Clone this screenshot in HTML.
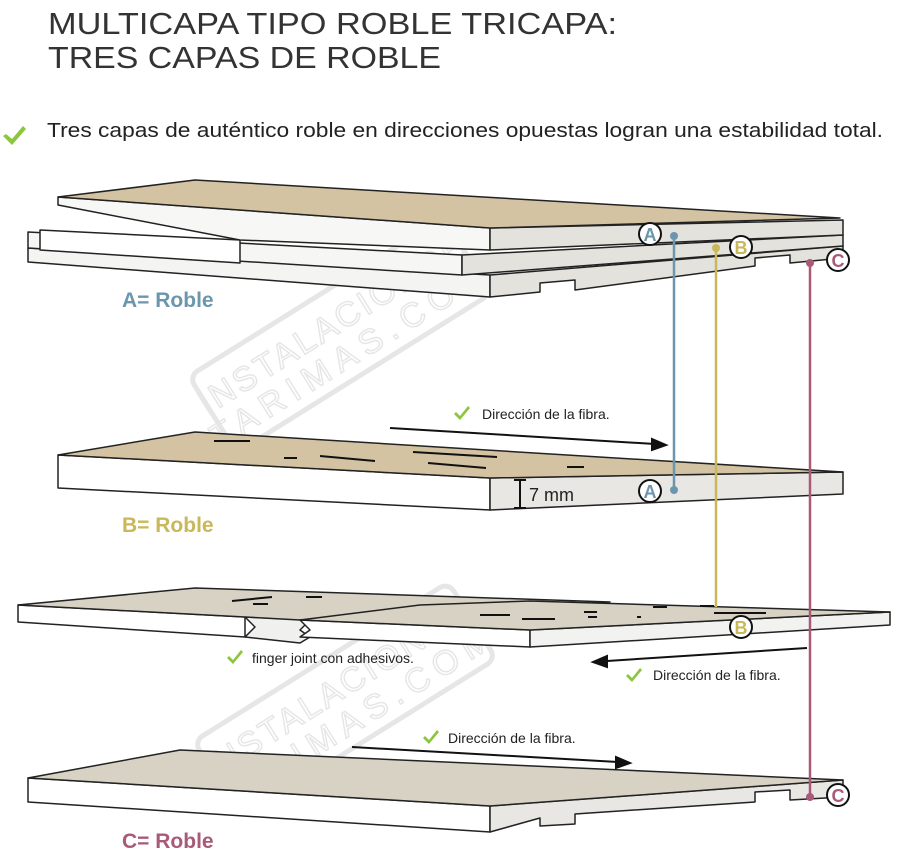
<!DOCTYPE html>
<html><head><meta charset="utf-8"><style>
html,body{margin:0;padding:0;background:#fff;width:900px;height:857px;overflow:hidden}
svg{display:block}
text{font-family:"Liberation Sans",sans-serif}
</style></head><body>
<svg width="900" height="857" viewBox="0 0 900 857" xmlns="http://www.w3.org/2000/svg">
<defs>
<g id="chk"><path d="M0,6 L4,10 L12,0 L14,2 L4,14 L-2,8 Z" fill="#8cc63f"/></g>
<g id="chkb"><path d="M0,8 L6,13 L17,0 L20,3 L6,19 L-3,10 Z" fill="#8cc63f"/></g>
</defs>
<!-- watermarks -->
<g opacity="0.2" fill="none" stroke="#888" stroke-width="5">
<g transform="translate(340,335) rotate(-32)">
<rect x="-150" y="-45" width="300" height="90" rx="10"/>
<text x="0" y="-2" text-anchor="middle" font-size="34" fill="none" stroke="#888" stroke-width="1.5" letter-spacing="3">INSTALACIONDE</text>
<text x="0" y="33" text-anchor="middle" font-size="34" fill="none" stroke="#888" stroke-width="1.5" letter-spacing="8">TARIMAS.COM</text>
</g>
<g transform="translate(345,700) rotate(-32)">
<rect x="-150" y="-45" width="300" height="90" rx="10"/>
<text x="0" y="-2" text-anchor="middle" font-size="34" fill="none" stroke="#888" stroke-width="1.5" letter-spacing="3">INSTALACIONDE</text>
<text x="0" y="33" text-anchor="middle" font-size="34" fill="none" stroke="#888" stroke-width="1.5" letter-spacing="8">TARIMAS.COM</text>
</g>
</g>
<!-- title -->
<text x="48" y="34" font-size="31" fill="#333" textLength="569" lengthAdjust="spacingAndGlyphs">MULTICAPA TIPO ROBLE TRICAPA:</text>
<text x="48" y="68" font-size="31" fill="#333" textLength="393" lengthAdjust="spacingAndGlyphs">TRES CAPAS DE ROBLE</text>
<use href="#chkb" x="6" y="126"/>
<text x="47" y="137" font-size="20" fill="#222" textLength="836" lengthAdjust="spacingAndGlyphs">Tres capas de auténtico roble en direcciones opuestas logran una estabilidad total.</text>

<!-- Board 1 (top, 3 layers) -->
<g stroke="#222" stroke-width="1.5" stroke-linejoin="round">
<polygon points="28,262 490,297 490,275 28,248" fill="#f4f4f2"/>
<polygon points="490,297 540,292 540,283 575,280 575,290 755,266 755,258 790,255 790,263 843,258 843,246 490,275" fill="#e4e2dc"/>
<polygon points="28,232 238,243 462,255 462,275 28,248" fill="#f6f6f4"/>
<polygon points="462,255 843,235 843,246 462,275" fill="#e4e2dc"/>
<polygon points="40,230 240,240 240,263 40,250" fill="#fff"/>
<polygon points="58,197 490,228 490,250 240,240 58,205" fill="#f7f7f5"/>
<polygon points="490,228 843,220 843,235 490,250" fill="#e4e2dc"/>
<polygon points="58,197 195,180 840,218 490,228" fill="#d3c3a3"/>
</g>
<text x="122" y="307" font-size="21" font-weight="bold" fill="#6b96ad">A= Roble</text>

<!-- Board 2 -->
<g stroke="#222" stroke-width="1.5" stroke-linejoin="round">
<polygon points="58,455 490,478 490,510 58,488" fill="#fff"/>
<polygon points="490,478 843,472 843,494 490,510" fill="#e8e7e4"/>
<polygon points="58,455 195,432 843,472 490,478" fill="#d3c3a3"/>
</g>
<g stroke="#111" stroke-width="2">
<line x1="214" y1="441" x2="250" y2="441"/><line x1="284" y1="458" x2="297" y2="458"/>
<line x1="320" y1="456" x2="375" y2="461"/><line x1="413" y1="452" x2="497" y2="457"/>
<line x1="428" y1="463" x2="486" y2="468"/><line x1="567" y1="467" x2="584" y2="467"/>
<line x1="520" y1="480" x2="520" y2="508"/><line x1="514" y1="480" x2="526" y2="480"/><line x1="514" y1="508" x2="526" y2="508"/>
</g>
<text x="529" y="501" font-size="18" fill="#222">7 mm</text>
<text x="122" y="532" font-size="21" font-weight="bold" fill="#c8b85a">B= Roble</text>

<!-- Board 3 -->
<g stroke="#222" stroke-width="1.5" stroke-linejoin="round">
<polygon points="18,605 245,617 245,637 18,622" fill="#fff"/>
<polygon points="245,617 310,620 300,630 310,637 300,643 245,637 255,627" fill="#f0f0ee"/>
<polygon points="18,605 195,588 610,602 300,620 245,617" fill="#d8d2c4"/>
<polygon points="300,620 530,630 530,647 300,637 310,630" fill="#fff"/>
<polygon points="530,630 890,612 890,625 530,647" fill="#f2f2f0"/>
<polygon points="300,620 420,605 530,601 890,612 530,630" fill="#d8d2c4"/>
</g>
<g stroke="#111" stroke-width="2">
<line x1="232" y1="601" x2="272" y2="597"/><line x1="306" y1="597" x2="322" y2="597"/><line x1="253" y1="604" x2="268" y2="604"/>
<line x1="480" y1="615" x2="510" y2="615"/><line x1="522" y1="619" x2="555" y2="619"/>
<line x1="584" y1="612" x2="597" y2="612"/><line x1="588" y1="617" x2="597" y2="617"/>
<line x1="637" y1="617" x2="641" y2="617"/><line x1="653" y1="607" x2="667" y2="607"/>
<line x1="700" y1="606" x2="714" y2="606"/><line x1="714" y1="613" x2="766" y2="613"/>
</g>
<use href="#chk" x="229" y="650"/>
<text x="252" y="663" font-size="14" fill="#222">finger joint con adhesivos.</text>

<!-- Board 4 -->
<g stroke="#222" stroke-width="1.5" stroke-linejoin="round">
<polygon points="28,778 490,806 490,832 28,802" fill="#fff"/>
<polygon points="490,806 843,780 843,797 790,800 790,790 755,792 755,802 575,814 575,824 540,826 540,818 490,832" fill="#e8e7e4"/>
<polygon points="28,778 180,750 843,780 490,806" fill="#d8d2c4"/>
</g>
<text x="122" y="848" font-size="21" font-weight="bold" fill="#a85a78">C= Roble</text>

<!-- arrows -->
<g stroke="#111" stroke-width="2" fill="#111">
<line x1="390" y1="428" x2="655" y2="444"/><polygon points="666,445 652,439 652,450"/>
<line x1="607" y1="661" x2="807" y2="648"/><polygon points="593,662 607,656 607,667"/>
<line x1="352" y1="747" x2="618" y2="762"/><polygon points="630,763 616,757 616,768"/>
</g>
<use href="#chk" x="456" y="406"/>
<text x="482" y="419" font-size="14" fill="#222">Dirección de la fibra.</text>
<use href="#chk" x="628" y="668"/>
<text x="653" y="680" font-size="14" fill="#222">Dirección de la fibra.</text>
<use href="#chk" x="425" y="730"/>
<text x="448" y="743" font-size="14" fill="#222">Dirección de la fibra.</text>

<!-- connector lines -->
<g stroke-width="2.5">
<line x1="674" y1="236" x2="674" y2="490" stroke="#6b96ad"/>
<line x1="716" y1="247" x2="716" y2="607" stroke="#c8b85a"/>
<line x1="810" y1="263" x2="810" y2="797" stroke="#a85a78"/>
</g>
<circle cx="674" cy="236" r="4" fill="#6b96ad"/><circle cx="674" cy="490" r="4" fill="#6b96ad"/>
<circle cx="716" cy="248" r="4" fill="#c8b85a"/>
<circle cx="810" cy="263" r="4" fill="#a85a78"/><circle cx="810" cy="797" r="4" fill="#a85a78"/>
<g stroke="#111" stroke-width="2" fill="#fff">
<circle cx="650" cy="234" r="11"/><circle cx="741" cy="247" r="11"/><circle cx="838" cy="260" r="11"/>
<circle cx="650" cy="491" r="11"/><circle cx="741" cy="627" r="11"/><circle cx="838" cy="795" r="11"/>
</g>
<g font-weight="bold" font-size="18" text-anchor="middle">
<text x="650" y="241" fill="#6b96ad">A</text><text x="741" y="254" fill="#c8b85a">B</text><text x="838" y="267" fill="#a85a78">C</text>
<text x="650" y="498" fill="#6b96ad">A</text><text x="741" y="634" fill="#c8b85a">B</text><text x="838" y="802" fill="#a85a78">C</text>
</g>
</svg>
</body></html>
